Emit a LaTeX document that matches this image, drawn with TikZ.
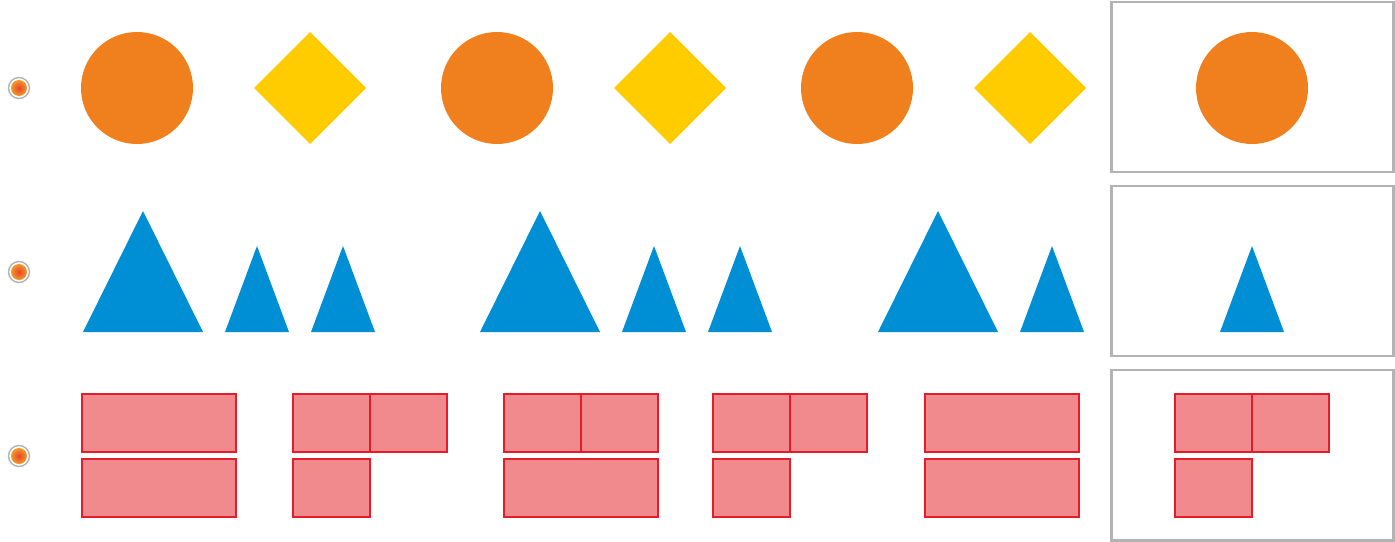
\documentclass[tikz,border=0pt]{standalone}
\usepackage{tikz}
\usetikzlibrary{calc}

\definecolor{ballorange}{HTML}{F0801E}
\definecolor{gemyellow}{HTML}{FFCC00}
\definecolor{tentblue}{HTML}{008FD5}
\definecolor{brickfill}{HTML}{F08A8C}
\definecolor{brickline}{HTML}{E31E2A}
\definecolor{framegray}{HTML}{B3B3B3}
\definecolor{dotred}{HTML}{E8452A}
\definecolor{dotorange}{HTML}{F39A2A}

\tikzset{
  ball/.style={fill=ballorange},
  gem/.style={fill=gemyellow},
  tent/.style={fill=tentblue},
  brick/.style={fill=brickfill, draw=brickline, line width=1.6pt},
  answerframe/.style={draw=framegray, line width=1.7pt},
  bulletring/.style={draw=framegray, line width=0.8pt, fill=white}
}

\begin{document}
\begin{tikzpicture}[x=0.02cm, y=-0.02cm]
\useasboundingbox (0,0) rectangle (1395,541);

% bullets
\foreach \yy in {88,272,456} {
  \draw[bulletring] (19,\yy) circle (10.5);
  \shade[inner color=dotred, outer color=dotorange] (19,\yy) circle (8);
}

% answer frames
\draw[answerframe] (1111,2) rectangle (1393,172);
\draw[answerframe] (1111,186) rectangle (1393,356);
\draw[answerframe] (1111,370) rectangle (1393,540);

% row 1: circles and diamonds
\foreach \xx in {137,497,857,1252}
  \fill[ball] (\xx,88) circle (56);
\foreach \xx in {310,670,1030}
  \fill[gem] (\xx-56,88) -- (\xx,32) -- (\xx+56,88) -- (\xx,144) -- cycle;

% row 2: big and small triangles
\foreach \xx in {143,540,938}
  \fill[tent] (\xx-60,332) -- (\xx,211) -- (\xx+60,332) -- cycle;
\foreach \xx in {257,343,654,740,1052,1252}
  \fill[tent] (\xx-32,332) -- (\xx,246) -- (\xx+32,332) -- cycle;

% row 3: bricks
\draw[brick] (82,394) rectangle (236,452);
\draw[brick] (82,459) rectangle (236,517);

\draw[brick] (293,394) rectangle (370,452);
\draw[brick] (370,394) rectangle (447,452);
\draw[brick] (293,459) rectangle (370,517);

\draw[brick] (504,394) rectangle (581,452);
\draw[brick] (581,394) rectangle (658,452);
\draw[brick] (504,459) rectangle (658,517);

\draw[brick] (713,394) rectangle (790,452);
\draw[brick] (790,394) rectangle (867,452);
\draw[brick] (713,459) rectangle (790,517);

\draw[brick] (925,394) rectangle (1079,452);
\draw[brick] (925,459) rectangle (1079,517);

\draw[brick] (1175,394) rectangle (1252,452);
\draw[brick] (1252,394) rectangle (1329,452);
\draw[brick] (1175,459) rectangle (1252,517);
\end{tikzpicture}
\end{document}
